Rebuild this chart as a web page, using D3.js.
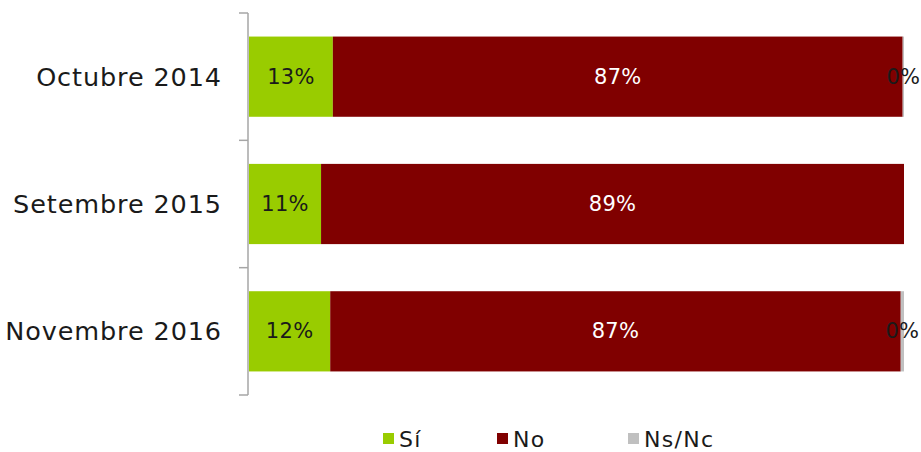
<!DOCTYPE html>
<html><head><meta charset="utf-8">
<script src="https://cdn.jsdelivr.net/npm/d3@7"></script>
<style>body{margin:0;background:#fff;}svg{display:block;font-family:"Century Gothic","DejaVu Sans",sans-serif;}</style>
</head><body><svg id="c" width="921" height="452"></svg>
<script>
const categories = ["Octubre 2014", "Setembre 2015", "Novembre 2016"];
const seriesNames = ["Sí", "No", "Ns/Nc"];
const si = [12.8, 11.0, 12.4];
const no = [87.0, 89.0, 87.1];
const nsnc = [0.2, 0.0, 0.5];
const labelsSi = ["13%", "11%", "12%"];
const labelsNo = ["87%", "89%", "87%"];
const labelsNs = ["0%", "", "0%"];
const colors = ["#99CC00", "#800000", "#C0C0C0"];

const svg = d3.select("#c");
const x = d3.scaleLinear().domain([0, 100]).range([249, 904]);
const y = d3.scaleBand().domain(categories).range([13, 395]).paddingInner(0.37).paddingOuter(0.185);

const rows = categories.map((c, i) => ({c, vals: [si[i], no[i], nsnc[i]], labels: [labelsSi[i], labelsNo[i], labelsNs[i]]}));
const textColors = ["#1a1a1a", "#ffffff", "#1a1a1a"];

rows.forEach(r => {
  let acc = 0;
  r.vals.forEach((v, k) => {
    const x0 = x(acc), x1 = x(acc + v);
    if (v > 0) {
      svg.append("rect").attr("x", x0).attr("y", y(r.c)).attr("width", x1 - x0)
        .attr("height", y.bandwidth()).attr("fill", colors[k]);
    }
    if (r.labels[k]) {
      svg.append("text").attr("x", (x0 + x1) / 2).attr("y", y(r.c) + y.bandwidth() / 2)
        .attr("text-anchor", "middle").attr("dominant-baseline", "central")
        .attr("font-size", 21).attr("letter-spacing", 0.3).attr("fill", textColors[k]).text(r.labels[k]);
    }
    acc += v;
  });
});

// axis
const axisG = svg.append("g").attr("transform", "translate(248,0)");
axisG.append("line").attr("x1", 0).attr("x2", 0).attr("y1", 13).attr("y2", 395).attr("stroke", "#A6A6A6").attr("stroke-width", 1.5);
const ticks = [13].concat(categories.map(c => y(c) + y.bandwidth() + y.step() * y.paddingInner() / 2));
ticks[3] = 395;
ticks.forEach(t => axisG.append("line").attr("x1", -9).attr("x2", 0).attr("y1", t).attr("y2", t).attr("stroke", "#A6A6A6").attr("stroke-width", 1.5));

categories.forEach(c => {
  svg.append("text").attr("x", 222).attr("y", y(c) + y.bandwidth() / 2)
    .attr("text-anchor", "end").attr("dominant-baseline", "central")
    .attr("font-size", 25.5).attr("letter-spacing", 0.9).attr("fill", "#1a1a1a").text(c);
});

// legend
const legX = [383, 497, 628];
seriesNames.forEach((s, k) => {
  svg.append("rect").attr("x", legX[k]).attr("y", 433).attr("width", 11).attr("height", 11).attr("fill", colors[k]);
  svg.append("text").attr("x", legX[k] + 16).attr("y", 439).attr("dominant-baseline", "central")
    .attr("font-size", 22).attr("letter-spacing", 1.3).attr("fill", "#1a1a1a").text(s);
});
</script></body></html>
